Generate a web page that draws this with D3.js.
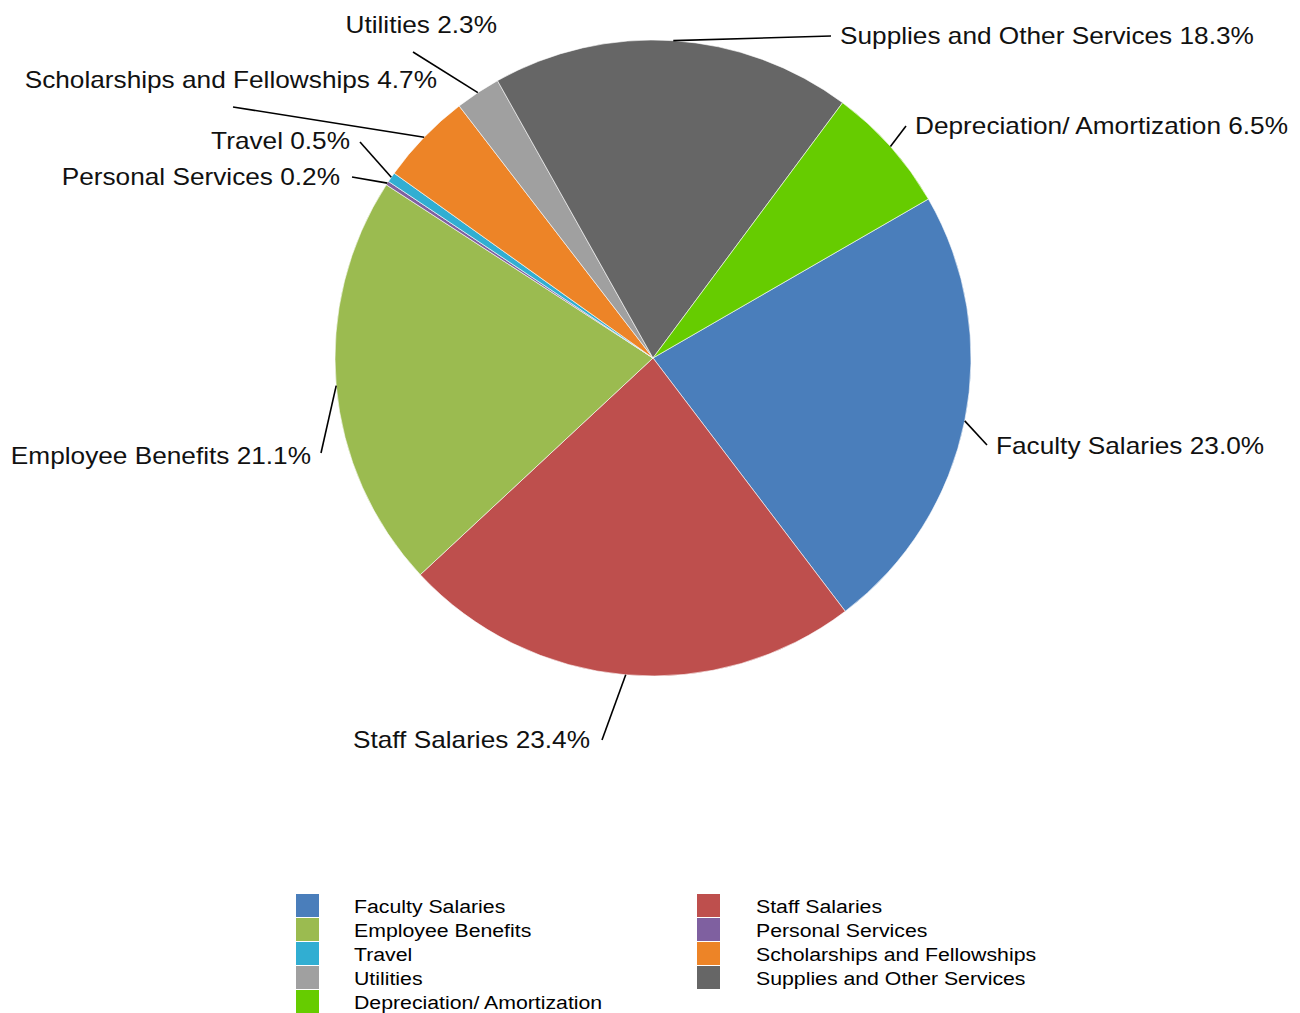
<!DOCTYPE html>
<html>
<head>
<meta charset="utf-8">
<script src="https://cdn.jsdelivr.net/npm/d3@7"></script>
<style>
  html, body { margin: 0; padding: 0; background: #ffffff; }
  svg { display: block; }
</style>
</head>
<body>
<svg id="chart" width="1300" height="1013"></svg>
<script>
// Expense categories, in drawing order (clockwise)
const categories = [
  "Faculty Salaries",
  "Staff Salaries",
  "Employee Benefits",
  "Personal Services",
  "Travel",
  "Scholarships and Fellowships",
  "Utilities",
  "Supplies and Other Services",
  "Depreciation/ Amortization"
];

// Share of total expenses, percent
const shares = [23.0, 23.4, 21.1, 0.2, 0.5, 4.7, 2.3, 18.3, 6.5];

const colors = [
  "#4a7ebb", "#be4f4d", "#9bbb50", "#7f60a0", "#31aed2",
  "#ed8427", "#a0a0a0", "#666666", "#66cc00"
];

// Callout placement for each slice label, offsets from pie centre:
// end of the leader line, text anchor point, and text alignment
const calloutLayout = [
  { line: [334, 87],    text: [343, 88],    align: "start" },
  { line: [-51, 382],   text: [-63, 382],   align: "end" },
  { line: [-332, 95],   text: [-342, 98],   align: "end" },
  { line: [-301, -181], text: [-313, -181], align: "end" },
  { line: [-293, -216], text: [-303, -217], align: "end" },
  { line: [-420, -251], text: [-216, -278], align: "end" },
  { line: [-240, -306], text: [-156, -333], align: "end" },
  { line: [178, -322],  text: [187, -322],  align: "start" },
  { line: [253, -232],  text: [262, -232],  align: "start" }
];

const data = categories.map((c, i) => ({ name: c, value: shares[i], color: colors[i], i }));

const svg = d3.select("#chart");
const cx = 653, cy = 358, radius = 318;
const startAngle = Math.PI / 3;
const fontFamily = "'Liberation Sans', Arial, sans-serif";
const stretch = 1.14;        // callout text is set slightly wide
const legendStretch = 1.12;

const pie = d3.pie()
  .value(d => d.value)
  .sort(null)
  .startAngle(startAngle)
  .endAngle(startAngle + 2 * Math.PI);

const arc = d3.arc().innerRadius(0).outerRadius(radius);
const rimArc = d3.arc().innerRadius(radius).outerRadius(radius);

const arcs = pie(data);
const g = svg.append("g").attr("transform", `translate(${cx},${cy})`);

g.selectAll("path.slice")
  .data(arcs)
  .join("path")
  .attr("class", "slice")
  .attr("d", arc)
  .attr("fill", d => d.data.color)
  .attr("stroke", "#ffffff")
  .attr("stroke-width", 0.6);

// Leader lines from the rim at each slice's mid-angle
g.selectAll("line.leader")
  .data(arcs)
  .join("line")
  .attr("class", "leader")
  .attr("x1", d => rimArc.centroid(d)[0])
  .attr("y1", d => rimArc.centroid(d)[1])
  .attr("x2", d => calloutLayout[d.data.i].line[0])
  .attr("y2", d => calloutLayout[d.data.i].line[1])
  .attr("stroke", "#000000")
  .attr("stroke-width", 1.6);

const pctFmt = d3.format(".1f");
g.selectAll("text.callout")
  .data(arcs)
  .join("text")
  .attr("class", "callout")
  .attr("transform", d => {
    const t = calloutLayout[d.data.i].text;
    return `translate(${t[0]},${t[1]}) scale(${stretch},1)`;
  })
  .attr("text-anchor", d => calloutLayout[d.data.i].align)
  .attr("dominant-baseline", "central")
  .attr("font-family", fontFamily)
  .attr("font-size", 23)
  .attr("fill", "#111111")
  .text(d => `${d.data.name} ${pctFmt(d.data.value)}%`);

// Legend: two columns, filled row by row
const legend = svg.append("g").attr("class", "legend");
const colX = [296, 697];
const rowY0 = 894, rowH = 24;
const items = legend.selectAll("g.item")
  .data(data)
  .join("g")
  .attr("class", "item")
  .attr("transform", d => `translate(${colX[d.i % 2]},${rowY0 + Math.floor(d.i / 2) * rowH})`);

items.append("rect")
  .attr("width", 23)
  .attr("height", 23)
  .attr("fill", d => d.color);

items.append("text")
  .attr("transform", d => `translate(${d.i % 2 === 0 ? 58 : 59},12) scale(${legendStretch},1)`)
  .attr("dominant-baseline", "central")
  .attr("font-family", fontFamily)
  .attr("font-size", 19)
  .attr("fill", "#000000")
  .text(d => d.name);
</script>
</body>
</html>
